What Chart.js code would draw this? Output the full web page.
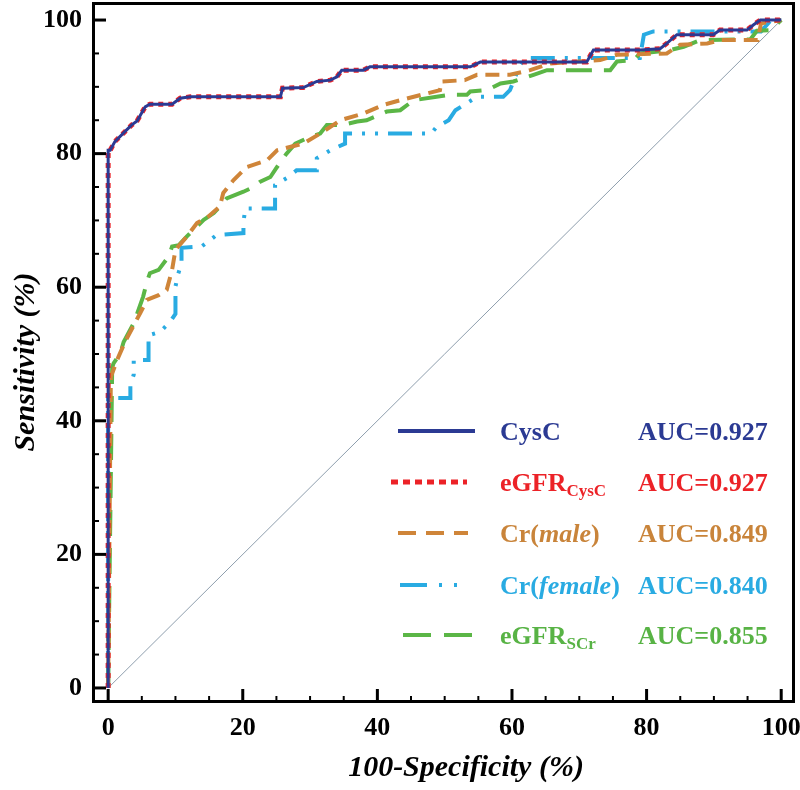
<!DOCTYPE html>
<html><head><meta charset="utf-8">
<script src="https://cdn.jsdelivr.net/npm/chart.js@4.4.0/dist/chart.umd.min.js"></script>
<style>html,body{margin:0;padding:0;background:#fff;}</style>
</head><body>
<canvas id="c" width="800" height="790"></canvas>
<script>
// ---- data ----
const xTicks = [0, 20, 40, 60, 80, 100];
const yTicks = [0, 20, 40, 60, 80, 100];
const seriesNames = ['CysC', 'eGFR_CysC', 'Cr(male)', 'Cr(female)', 'eGFR_SCr'];
const aucValues = ['0.927', '0.927', '0.849', '0.840', '0.855'];

// [100-Specificity, Sensitivity]
const cysCPoints = [[0,0],[0,80.5],[0.3,80.5],[1.0,81.8],[2.3,83.1],[3.5,84.3],[4.3,84.9],[5.5,87.0],[6.2,87.4],[9.5,87.4],[10.7,88.3],[12.2,88.5],[25.6,88.5],[25.9,89.8],[29.0,89.9],[31.0,90.8],[33.0,91.0],[34.0,91.5],[34.7,92.5],[37.9,92.5],[38.9,93.0],[53.8,93.0],[55.3,93.7],[71.1,93.7],[72.1,95.5],[79.0,95.5],[82.0,95.7],[83.0,96.5],[84.5,97.8],[89.9,97.8],[90.9,98.5],[94.9,98.5],[95.9,99.3],[96.9,100],[100,100]];
const egfrCysCPoints = [[0,0],[0,80.5],[0.3,80.5],[1.0,81.8],[2.3,83.1],[3.5,84.3],[4.3,84.9],[5.5,87.0],[6.2,87.4],[9.5,87.4],[10.7,88.3],[12.2,88.5],[25.6,88.5],[25.9,89.8],[29.0,89.9],[31.0,90.8],[33.0,91.0],[34.0,91.5],[34.7,92.5],[37.9,92.5],[38.9,93.0],[53.8,93.0],[55.3,93.7],[71.1,93.7],[72.1,95.5],[79.0,95.5],[82.0,95.7],[83.0,96.5],[84.5,97.8],[89.9,97.8],[90.9,98.5],[94.9,98.5],[95.9,99.3],[96.9,100],[100,100]];
const crMalePoints = [[0,0],[0.4,46.6],[1.5,49.5],[2.5,51.8],[4.75,56.1],[5.75,58.1],[7.5,58.8],[8.7,59.6],[9.5,62.6],[10.0,65.6],[11.7,67.6],[13.2,69.6],[14.9,70.6],[16.6,72.1],[17.1,74.1],[18.6,76.0],[20.6,78.0],[23.6,79.0],[25.1,80.5],[27.0,81.0],[29.0,81.5],[31.5,83.0],[34.5,85.0],[37.9,86.0],[40.9,87.3],[43.4,88.0],[49.3,89.5],[49.5,90.8],[53.0,91.0],[54.8,91.8],[59.7,91.8],[62.7,92.5],[65.7,93.5],[73.1,94.0],[75.6,94.8],[83.0,95.0],[85.0,96.3],[89.0,96.5],[91.0,97.0],[96.5,97.0],[97.0,99.5],[100,100]];
const crFemalePoints = [[0,0],[0,43.4],[3.3,43.4],[3.3,45.4],[3.8,46.9],[3.8,49.1],[6.0,49.1],[6.0,52.8],[7.7,53.3],[9.2,54.8],[10.0,56.0],[10.0,60.1],[10.4,62.0],[10.9,63.5],[10.9,65.9],[13.9,66.1],[16.1,67.8],[20.1,68.1],[20.1,69.8],[20.4,71.8],[24.8,71.8],[24.8,75.3],[26.8,76.5],[28.0,77.5],[31.0,77.5],[31.0,79.3],[33.0,80.5],[35.2,81.5],[35.2,83.0],[48.0,83.0],[48.8,84.0],[50.6,85.0],[51.6,86.5],[54.8,88.5],[58.7,88.5],[59.7,89.5],[61.2,93.3],[62.0,94.3],[79.0,94.3],[79.6,97.8],[81.0,98.3],[97.0,98.3],[98.5,100],[100,100]];
const egfrSCrPoints = [[0,0],[0.6,48.0],[0.8,48.6],[1.8,50.1],[2.3,51.8],[3.8,54.6],[5.2,58.6],[5.75,60.8],[6.2,62.1],[7.5,62.6],[9.0,64.6],[9.5,66.1],[10.5,66.3],[11.7,67.6],[12.7,68.6],[14.2,70.1],[15.7,71.1],[16.6,72.1],[17.6,73.3],[20.1,74.3],[21.6,75.0],[22.6,75.8],[24.1,76.5],[25.1,78.0],[26.5,80.0],[27.8,81.5],[30.0,82.5],[31.5,83.0],[32.5,84.3],[34.8,84.3],[37.0,84.8],[38.4,85.0],[41.4,86.3],[43.4,86.5],[45.4,88.0],[48.8,88.5],[50.8,88.8],[53.3,88.8],[53.8,89.3],[56.3,89.5],[58.3,90.5],[60.2,90.8],[63.2,91.8],[65.2,92.5],[74.6,92.5],[75.6,93.8],[78.1,94.0],[79.0,95.0],[83.5,95.5],[85.5,96.0],[88.0,97.0],[95.4,97.1],[96.4,98.4],[98.4,98.5],[100,100]];
const referencePoints = [[0,0],[100,100]];

const toXY = pts => pts.map(p => ({x: p[0], y: p[1]}));

const COL = {
  cys: '#2B3A93', red: '#EC2227', orange: '#CF8539', cyan: '#29ABE2', green: '#5BB646', diag: '#8E9EAD'
};
const SERIF = '"Liberation Serif", "Times New Roman", serif';

const lineDs = (label, pts, color, width, dash) => ({
  label, data: toXY(pts), showLine: true, borderColor: color, backgroundColor: color,
  borderWidth: width, borderDash: dash, pointRadius: 0, pointHoverRadius: 0, tension: 0,
  borderCapStyle: 'butt', borderJoinStyle: 'miter', fill: false
});

const noPad = s => { s.paddingTop = 0; s.paddingBottom = 0; s.paddingLeft = 0; s.paddingRight = 0; };

const framePlugin = {
  id: 'frame',
  afterDraw(chart) {
    const ctx = chart.ctx, a = chart.chartArea;
    const xs = chart.scales.x, ys = chart.scales.y;
    ctx.save();
    ctx.strokeStyle = '#000';
    for (let v = 0; v <= 100; v += 5) {
      const major = v % 20 === 0;
      ctx.lineWidth = major ? 3 : 2;
      const len = major ? 14 : 7;
      const px = xs.getPixelForValue(v);
      ctx.beginPath(); ctx.moveTo(px, a.bottom); ctx.lineTo(px, a.bottom - len); ctx.stroke();
      const py = ys.getPixelForValue(v);
      ctx.beginPath(); ctx.moveTo(a.left, py); ctx.lineTo(a.left + len, py); ctx.stroke();
    }
    ctx.lineWidth = 3;
    ctx.strokeRect(a.left + 1.5, a.top + 1.5, a.right - a.left - 3, a.bottom - a.top - 3);
    ctx.fillStyle = '#000';
    ctx.font = 'italic bold 30px ' + SERIF;
    ctx.textAlign = 'center'; ctx.textBaseline = 'middle';
    ctx.fillText('100-Specificity (%)', 466, 768);
    ctx.translate(26, 362); ctx.rotate(-Math.PI / 2);
    ctx.fillText('Sensitivity (%)', 0, 0);
    ctx.restore();
  }
};

const legendPlugin = {
  id: 'rocLegend',
  afterDraw(chart) {
    const ctx = chart.ctx;
    const rows = [431, 482, 533, 585, 635];
    const styles = [
      {c: COL.cys, w: 4, d: [], x0: 398, x1: 475},
      {c: COL.red, w: 5, d: [7, 5], x0: 391, x1: 467},
      {c: COL.orange, w: 4, d: [18, 10], x0: 398, x1: 468},
      {c: COL.cyan, w: 4, d: [27, 12, 3, 12, 3, 12], x0: 400, x1: 459},
      {c: COL.green, w: 4, d: [28, 13], x0: 403, x1: 473}
    ];
    const textCols = [COL.cys, COL.red, '#C9843A', COL.cyan, '#58B345'];
    const big = 'bold 26px ' + SERIF, bigIt = 'italic bold 26px ' + SERIF, sub = 'bold 17px ' + SERIF;
    const labelParts = [
      [[seriesNames[0], big, 0]],
      [['eGFR', big, 0], ['CysC', sub, 5]],
      [['Cr(', big, 0], ['male', bigIt, 0], [')', big, 0]],
      [['Cr(', big, 0], ['female', bigIt, 0], [')', big, 0]],
      [['eGFR', big, 0], ['SCr', sub, 5]]
    ];
    ctx.save();
    rows.forEach((y, i) => {
      const s = styles[i];
      ctx.strokeStyle = s.c; ctx.lineWidth = s.w; ctx.setLineDash(s.d); ctx.lineCap = 'butt';
      ctx.beginPath(); ctx.moveTo(s.x0, y); ctx.lineTo(s.x1, y); ctx.stroke();
      ctx.setLineDash([]);
      ctx.fillStyle = textCols[i]; ctx.textAlign = 'left'; ctx.textBaseline = 'alphabetic';
      let x = 500;
      labelParts[i].forEach(([t, f, dy]) => {
        ctx.font = f; ctx.fillText(t, x, y + 8.5 + dy); x += ctx.measureText(t).width;
      });
      ctx.font = big;
      ctx.fillText('AUC=' + aucValues[i], 638, y + 8.5);
    });
    ctx.restore();
  }
};

new Chart(document.getElementById('c'), {
  type: 'scatter',
  data: {
    datasets: [
      lineDs('CysC', cysCPoints, COL.cys, 3, []),
      lineDs('eGFR_CysC', egfrCysCPoints, COL.red, 5, [5, 5]),
      lineDs('Cr(male)', crMalePoints, COL.orange, 4, [14, 8]),
      lineDs('eGFR_SCr', egfrSCrPoints, COL.green, 4, [26, 12]),
      lineDs('Cr(female)', crFemalePoints, COL.cyan, 4, [24, 10, 3, 10, 3, 10]),
      lineDs('reference', referencePoints, COL.diag, 1, [])
    ]
  },
  options: {
    responsive: false, animation: false, devicePixelRatio: 1,
    layout: {padding: {top: 2, right: 5, left: 0, bottom: 0}},
    plugins: {legend: {display: false}, tooltip: {enabled: false}},
    scales: {
      x: {
        type: 'linear', min: -2.4, max: 102.05,
        afterBuildTicks: s => { s.ticks = xTicks.map(v => ({value: v})); },
        afterFit: s => { s.height = 87; noPad(s); },
        ticks: {font: {family: SERIF, size: 26, weight: 'bold'}, color: '#000', padding: 10, maxRotation: 0, autoSkip: false},
        grid: {display: false, drawTicks: false},
        border: {display: false},
        title: {display: false}
      },
      y: {
        type: 'linear', min: -2.25, max: 102.7,
        afterBuildTicks: s => { s.ticks = yTicks.map(v => ({value: v})); },
        afterFit: s => { s.width = 92; noPad(s); },
        ticks: {font: {family: SERIF, size: 26, weight: 'bold'}, color: '#000', padding: 10, autoSkip: false},
        grid: {display: false, drawTicks: false},
        border: {display: false},
        title: {display: false}
      }
    }
  },
  plugins: [framePlugin, legendPlugin]
});
</script>
</body></html>
